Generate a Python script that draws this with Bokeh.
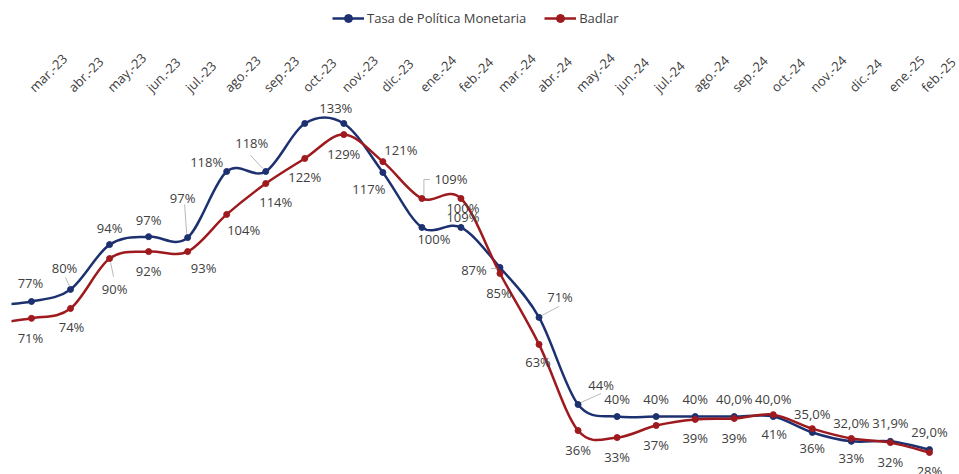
import math
from bokeh.plotting import figure
from bokeh.layouts import column
from bokeh.models import (ColumnDataSource, LinearAxis, FixedTicker, Range1d,
                          Legend, LegendItem)
from bokeh.core.properties import value
from bokeh.embed import file_html
from bokeh.resources import INLINE

# ---------------- data ----------------
CATEGORIES = ["feb.-23", "mar.-23", "abr.-23", "may.-23", "jun.-23", "jul.-23",
              "ago.-23", "sep.-23", "oct.-23", "nov.-23", "dic.-23", "ene.-24",
              "feb.-24", "mar.-24", "abr.-24", "may.-24", "jun.-24", "jul.-24",
              "ago.-24", "sep.-24", "oct.-24", "nov.-24", "dic.-24", "ene.-25",
              "feb.-25"]
TPM = [75.8, 77.0, 80.8, 94.9, 97.4, 97.1, 117.9, 117.9, 133.0, 133.0, 117.6,
       100.3, 100.3, 87.7, 72.0, 44.6, 40.8, 40.8, 40.8, 40.8, 40.8, 35.8,
       33.0, 33.0, 30.4]
BADLAR = [70.2, 71.7, 74.8, 90.5, 92.7, 92.7, 104.4, 114.1, 122.0, 129.5,
          121.0, 109.4, 109.4, 85.8, 63.5, 36.4, 34.2, 38.0, 39.9, 40.2, 41.4,
          37.0, 33.9, 32.6, 29.5]
TPM_LABELS = ["", "77%", "80%", "94%", "97%", "97%", "118%", "118%", "", "133%",
              "117%", "100%", "100%", "87%", "71%", "44%", "40%", "40%", "40%",
              "40,0%", "40,0%", "35,0%", "32,0%", "31,9%", "29,0%"]
BADLAR_LABELS = ["", "71%", "74%", "90%", "92%", "93%", "104%", "114%", "122%",
                 "129%", "121%", "109%", "109%", "85%", "63%", "36%", "33%",
                 "37%", "39%", "39%", "41%", "36%", "33%", "32%", "28%"]
SERIES_NAMES = ["Tasa de Política Monetaria", "Badlar"]

# ---------------- styling / label placement (screen px) ----------------
NAVY = "#1D3170"
RED = "#9E1A1E"
TEXT = "#404040"
FONT = "Open Sans"
TPM_LABEL_OFFSETS = [(0, -18), (-1, -18), (-6, -21), (0, -17), (0, -17), (-5, -40),
                     (-20, -9), (-14, -28), (0, -15), (-8, -15), (-14, 17), (12, 12),
                     (2, -19), (-26, 3), (21, -20), (23, -19), (0, -18), (0, -18),
                     (0, -18), (0, -18), (0, -18), (0, -18), (0, -18), (0, -18),
                     (0, -18)]
BADLAR_LABEL_OFFSETS = [(0, 19), (-1, 20), (1, 19), (5, 30), (0, 19), (16, 16),
                        (17, 16), (10, 18), (0, 19), (0, 19), (18, -12), (29, -19),
                        (2, 19), (-1, 19), (-1, 18), (0, 19), (0, 19), (0, 20),
                        (0, 19), (0, 20), (1, 19), (0, 19), (0, 20), (0, 19),
                        (0, 19)]
# leader lines: (series, index, start offset px, end offset px)
LEADERS = [
    (0, 2, (-1, -3), (-5, -12)),
    (0, 5, (-1, -4), (-3, -33)),
    (0, 7, (-3, -3), (-15, -16)),
    (1, 3, (1, 4), (4, 18)),
    (1, 11, (2, -3), (2, -19)),
    (1, 11, (2, -19), (8, -19)),
    (0, 13, (-3, 1), (-9, 1)),
    (0, 14, (3, -2), (20, -11)),
    (0, 15, (3, -2), (23, -11)),
]

W, H = 959, 474
LEG_H = 36
X0, X1 = 0.488, 24.77
Y0, Y1 = 22.57, 140.86
BORDER_TOP, BORDER_LEFT = 98, 11
PX_X = (W - BORDER_LEFT) / (X1 - X0)
PX_Y = (H - BORDER_TOP) / (Y1 - Y0)

xs = list(range(len(CATEGORIES)))


def bezier_source(vals):
    n = len(vals)
    d = dict(x0=[], y0=[], x1=[], y1=[], cx0=[], cy0=[], cx1=[], cy1=[])
    for j in range(n - 1):
        pm = j - 1 if j > 0 else j
        pp = j + 2 if j + 2 < n else j + 1
        d["x0"].append(xs[j]); d["y0"].append(vals[j])
        d["x1"].append(xs[j + 1]); d["y1"].append(vals[j + 1])
        d["cx0"].append(xs[j] + (xs[j + 1] - xs[pm]) / 6)
        d["cy0"].append(vals[j] + (vals[j + 1] - vals[pm]) / 6)
        d["cx1"].append(xs[j + 1] - (xs[pp] - xs[j]) / 6)
        d["cy1"].append(vals[j + 1] - (vals[pp] - vals[j]) / 6)
    return ColumnDataSource(d)


def series(fig, vals, color):
    bz = fig.bezier(x0="x0", y0="y0", x1="x1", y1="y1", cx0="cx0", cy0="cy0",
                    cx1="cx1", cy1="cy1", source=bezier_source(vals),
                    line_color=color, line_width=2.5)
    sc = fig.scatter(x=xs, y=vals, size=6, marker="circle",
                     fill_color=color, line_color=color)
    return bz, sc


# ---------------- main chart ----------------
p = figure(width=W, height=H - LEG_H, output_backend="svg", toolbar_location=None,
           x_axis_type=None, y_axis_type=None,
           x_range=Range1d(X0, X1), y_range=Range1d(Y0, Y1),
           min_border_left=BORDER_LEFT, min_border_right=0,
           min_border_bottom=0, min_border_top=BORDER_TOP - LEG_H)
p.outline_line_color = None

for vals, color in [(TPM, NAVY), (BADLAR, RED)]:
    series(p, vals, color)

# leader lines
lx0, ly0, lx1, ly1 = [], [], [], []
for s, i, a, b in LEADERS:
    v = (TPM, BADLAR)[s][i]
    lx0.append(xs[i] + a[0] / PX_X); ly0.append(v - a[1] / PX_Y)
    lx1.append(xs[i] + b[0] / PX_X); ly1.append(v - b[1] / PX_Y)
p.segment(x0=lx0, y0=ly0, x1=lx1, y1=ly1, line_color="#A6A6A6", line_width=0.8)

# data labels
for vals, labels, offs in [(TPM, TPM_LABELS, TPM_LABEL_OFFSETS),
                           (BADLAR, BADLAR_LABELS, BADLAR_LABEL_OFFSETS)]:
    src = ColumnDataSource(dict(x=xs, y=vals, t=labels,
                                dx=[o[0] for o in offs], dy=[o[1] for o in offs]))
    p.text(x="x", y="y", text="t", source=src, x_offset="dx", y_offset="dy",
           text_align="center", text_baseline="middle",
           text_font=value(FONT), text_font_size="13px", text_color=TEXT)

# category axis on top
ax = LinearAxis(ticker=FixedTicker(ticks=xs[1:]),
                major_label_overrides={i: CATEGORIES[i] for i in xs},
                major_label_orientation=math.pi / 4,
                axis_line_color=None, major_tick_line_color=None,
                minor_tick_line_color=None, major_label_standoff=3,
                major_label_text_font=FONT, major_label_text_font_size="13px",
                major_label_text_color=TEXT)
p.add_layout(ax, "above")

# ---------------- legend strip (series drawn outside its visible range) ----------------
lg = figure(width=W, height=LEG_H, output_backend="svg", toolbar_location=None,
            x_axis_type=None, y_axis_type=None,
            x_range=Range1d(X0, X1), y_range=Range1d(1000, 1001), min_border=0)
lg.outline_line_color = None
items = []
for vals, color, name in [(TPM, NAVY, SERIES_NAMES[0]), (BADLAR, RED, SERIES_NAMES[1])]:
    bz, sc = series(lg, vals, color)
    items.append(LegendItem(label=name, renderers=[bz, sc]))
legend = Legend(items=items, orientation="horizontal", location=(321, 8),
                glyph_width=32, glyph_height=20, label_height=20,
                label_standoff=3, spacing=18, padding=0, margin=0,
                border_line_color=None, background_fill_alpha=0,
                label_text_font=FONT, label_text_font_size="13px",
                label_text_color=TEXT)
lg.add_layout(legend)

layout = column(lg, p, spacing=0)
open("out.html", "w").write(file_html(layout, INLINE))
